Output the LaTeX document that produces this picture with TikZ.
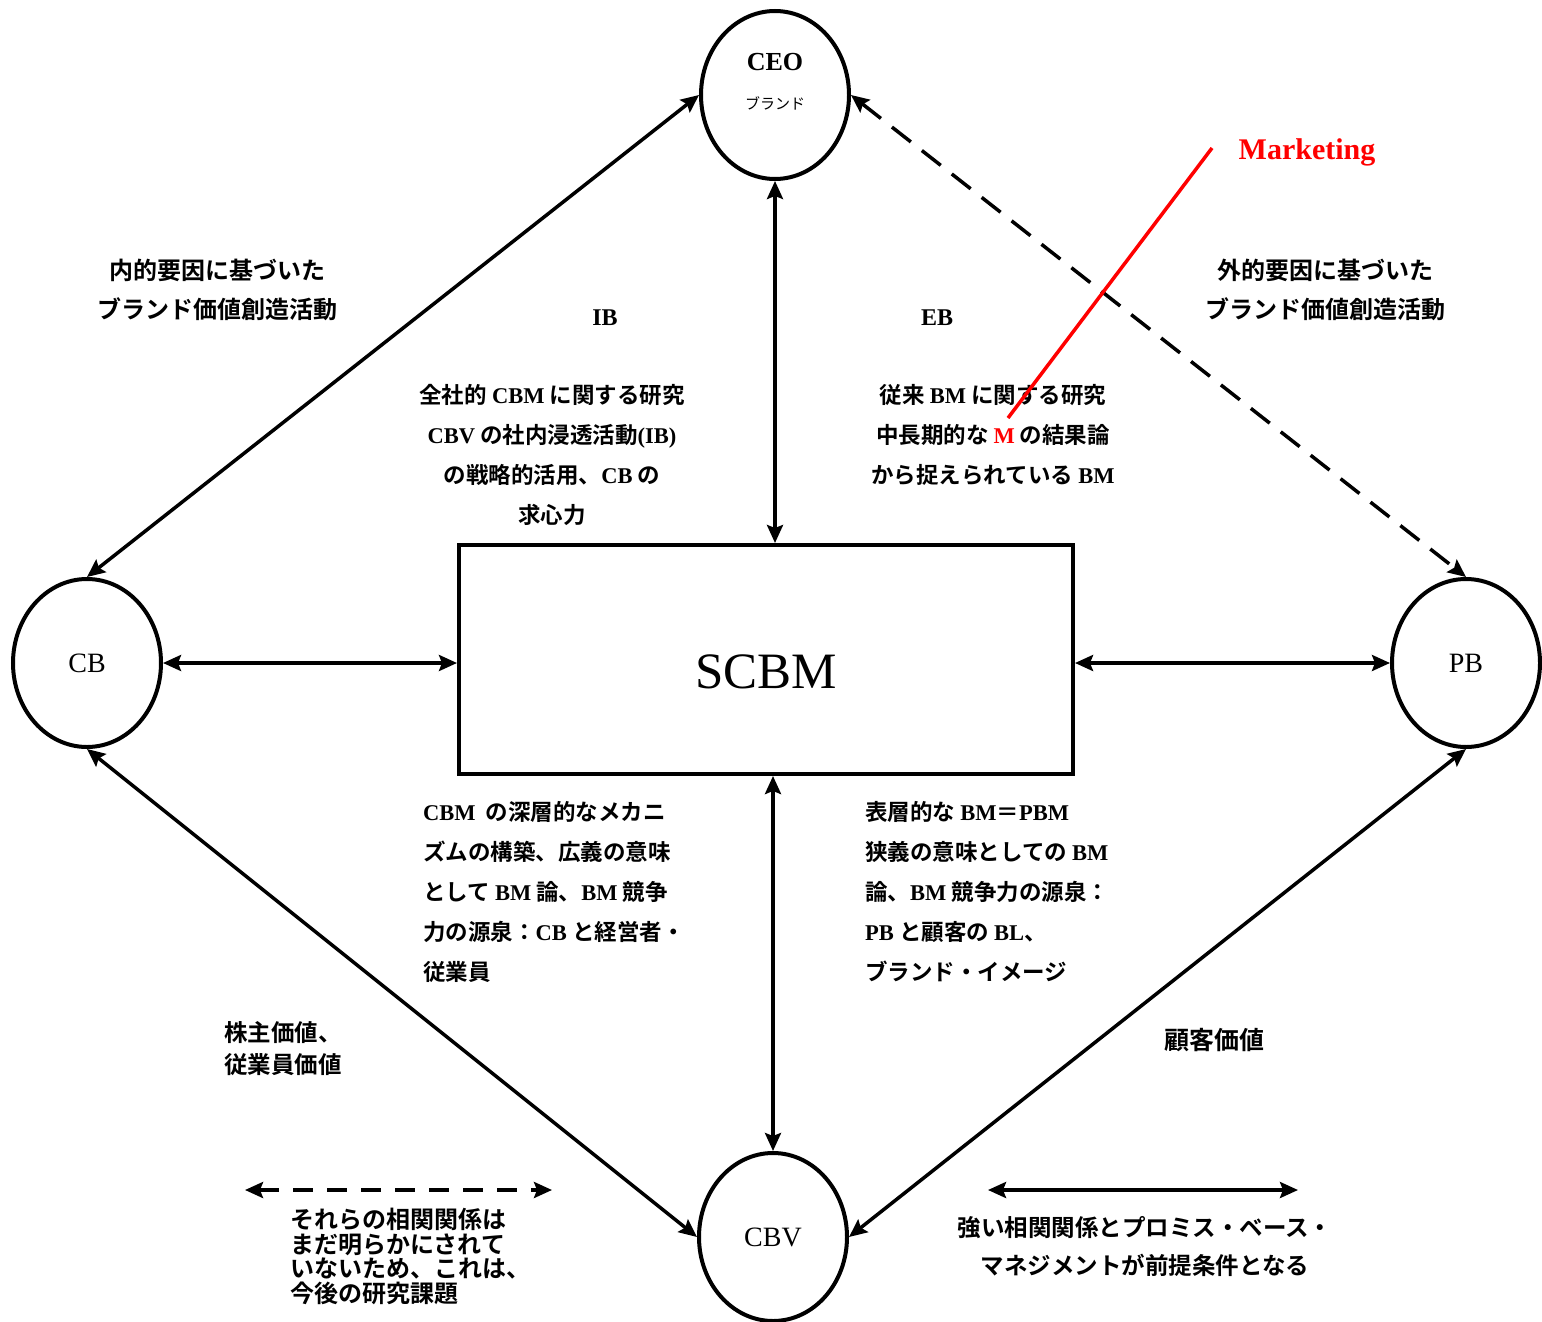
\documentclass[tikz,border=0pt]{standalone}
\usepackage{fontspec}
\newfontfamily\jp{Noto Sans CJK JP}[BoldFont={* Bold}]
\newfontfamily\enf{Liberation Serif}
\usetikzlibrary{arrows.meta,shapes.geometric}
\newcommand\EN[1]{{\enf\bfseries #1}}
\newcommand\setfs[2]{\fontsize{#1}{#2}\selectfont}
\begin{document}
\begin{tikzpicture}[x=1pt,y=-1pt,
  ell/.style={ellipse, draw, line width=4pt, minimum width=148pt, minimum height=168pt, inner sep=0pt, font=\enf\setfs{28}{30}},
  conn/.style={line width=3.5pt, {Stealth[length=18pt,width=16pt,inset=3pt]}-{Stealth[length=18pt,width=16pt,inset=3pt]}},
  dconn/.style={conn, dash pattern=on 24pt off 14pt},
  jpt/.style={font=\jp\bfseries\setfs{22.5}{40}, inner sep=0pt},
  ent/.style={font=\enf\bfseries\setfs{24}{26}, inner sep=0pt}]
\useasboundingbox (0,0) rectangle (1542,1322);

% nodes
\node[ell] (CEO) at (775,95) {};
\node[font=\enf\bfseries\setfs{26}{30}, inner sep=0pt] (ceot) at (775,62) {CEO};
\node[font=\jp\setfs{15}{18}, inner sep=0pt] (ceob) at (775,103) {ブランド};
\node[ell] (CB) at (87,663) {CB};
\node[ell] (PB) at (1466,663) {PB};
\node[ell] (CBV) at (773,1237) {CBV};
\node[draw, line width=4pt, minimum width=614pt, minimum height=229pt, inner sep=0pt] (SCBM) at (766,659.5) {};
\node[font=\enf\setfs{51}{55}, inner sep=0pt] (scbmt) at (766,672) {SCBM};

% connectors
\draw[conn] (CEO.south) -- (CEO.south |- SCBM.north);
\draw[conn] (SCBM.south -| CBV.north) -- (CBV.north);
\draw[conn] (CB.east) -- (CB.east -| SCBM.west);
\draw[conn] (PB.west -| SCBM.east) -- (PB.west);
\draw[conn] (CEO.west) -- (CB.north);
\draw[dconn] (CEO.east) -- (PB.north);
\draw[conn] (CB.south) -- (CBV.west);
\draw[conn] (PB.south) -- (CBV.east);

% legend arrows
\coordinate (la1) at (245,1190);
\coordinate (la2) at (552,1190);
\coordinate (ra1) at (988,1190);
\coordinate (ra2) at (1298,1190);
\draw[dconn, dash pattern=on 20pt off 14pt] (la1) -- (la2);
\draw[conn] (ra1) -- (ra2);

% texts
\node[jpt, font=\jp\bfseries\setfs{24}{39}, align=center] (hl) at (217,289.5) {内的要因に基づいた\\ブランド価値創造活動};
\node[jpt, font=\jp\bfseries\setfs{24}{39}, align=center] (hr) at (1325,289.5) {外的要因に基づいた\\ブランド価値創造活動};
\node[ent] (ib) at (605,318) {IB};
\node[ent] (eb) at (937,318) {EB};
\node[jpt, align=center] (ul) at (552,455) {全社的 \EN{CBM} に関する研究\\\EN{CBV} の社内浸透活動\EN{(IB)}\\の戦略的活用、\EN{CB} の\\求心力};
\node[jpt, align=center] (ur) at (993,435) {従来 \EN{BM} に関する研究\\中長期的な \textcolor{red}{\EN{M}} の結果論\\から捉えられている \EN{BM}};
\node[jpt, align=left, anchor=west] (ll) at (423,892) {\EN{CBM}\ \ の深層的なメカニ\\ズムの構築、広義の意味\\として \EN{BM} 論、\EN{BM} 競争\\力の源泉：\EN{CB} と経営者・\\従業員};
\node[jpt, align=left, anchor=west] (lr) at (865,892) {表層的な \EN{BM}＝\EN{PBM}\\狭義の意味としての \EN{BM}\\論、\EN{BM} 競争力の源泉：\\\EN{PB} と顧客の \EN{BL}、\\ブランド・イメージ};
\node[jpt, font=\jp\bfseries\setfs{23.5}{32}, align=left, anchor=west] (sv) at (224,1049) {株主価値、\\従業員価値};
\node[jpt, font=\jp\bfseries\setfs{25}{30}] (cv) at (1214,1040) {顧客価値};
\node[jpt, font=\jp\bfseries\setfs{24}{24.5}, align=left, anchor=west] (lgl) at (290,1256.5) {それらの相関関係は\\まだ明らかにされて\\いないため、これは、\\今後の研究課題};
\node[jpt, font=\jp\bfseries\setfs{23.5}{38}, align=center] (lgr) at (1145,1247) {強い相関関係とプロミス・ベース・\\マネジメントが前提条件となる};

% marketing
\node[text=red, font=\enf\bfseries\setfs{30}{32}, inner sep=0pt] (mk) at (1307,152) {Marketing};
\coordinate (rt) at (1212,148);
\coordinate (rb) at (1008,418);
\draw[red, line width=3.5pt] (rt) -- (rb);
\end{tikzpicture}
\end{document}
